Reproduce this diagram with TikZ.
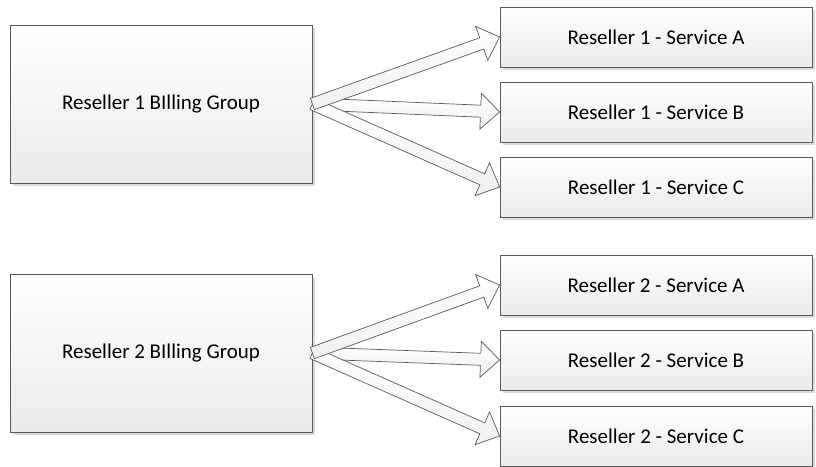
\documentclass[tikz,border=0pt]{standalone}
\usepackage{fontspec}
\setmainfont{Carlito}
\usepackage{tikz}
\usetikzlibrary{positioning, calc, shadows}

% block arrow between two anchors
\newcommand{\shaftw}{6pt}
\newcommand{\headw}{18pt}
\newcommand{\headl}{19pt}
\newcommand{\fatarrow}[2]{%
  \coordinate (fa-base) at ($(#2)!\headl!(#1)$);
  \draw[blockarrow]
    ($(#1)!\shaftw!90:(#2)$)
    -- ($(fa-base)!\shaftw!90:(#2)$)
    -- ($(fa-base)!\headw!90:(#2)$)
    -- (#2)
    -- ($(fa-base)!\headw!-90:(#2)$)
    -- ($(fa-base)!\shaftw!-90:(#2)$)
    -- ($(#1)!\shaftw!-90:(#2)$)
    -- cycle;
}

\begin{document}
\begin{tikzpicture}[
    x=1pt, y=-1pt,
    box/.style={draw=black!65, line width=0.8pt, top color=white,
                bottom color=black!8, inner sep=0pt, align=center,
                font=\fontsize{21}{25}\selectfont,
                drop shadow={shadow xshift=3pt, shadow yshift=-3pt,
                             fill=black!14, opacity=1}},
    group/.style={box, minimum width=302pt, minimum height=158pt},
    service/.style={box, minimum width=312pt, minimum height=60pt},
    blockarrow/.style={draw=black!65, line width=0.7pt, line join=miter,
                       top color=white, bottom color=black!6},
]
\useasboundingbox (0,0) rectangle (816,466);

% --- Reseller 1 ---
\node[group] (r1) at (161, 104) {Reseller 1 BIlling Group};
\node[service] (r1a) at (656, 37) {Reseller 1 - Service A};
\node[service] (r1b) at (656, 112) {Reseller 1 - Service B};
\node[service] (r1c) at (656, 187) {Reseller 1 - Service C};

% --- Reseller 2 ---
\node[group] (r2) at (161, 353) {Reseller 2 BIlling Group};
\node[service] (r2a) at (656, 285) {Reseller 2 - Service A};
\node[service] (r2b) at (656, 360) {Reseller 2 - Service B};
\node[service] (r2c) at (656, 436) {Reseller 2 - Service C};

% --- Arrows ---
\fatarrow{r1.east}{r1b.west}
\fatarrow{r1.east}{r1c.west}
\fatarrow{r1.east}{r1a.west}
\fatarrow{r2.east}{r2b.west}
\fatarrow{r2.east}{r2c.west}
\fatarrow{r2.east}{r2a.west}
\end{tikzpicture}
\end{document}
